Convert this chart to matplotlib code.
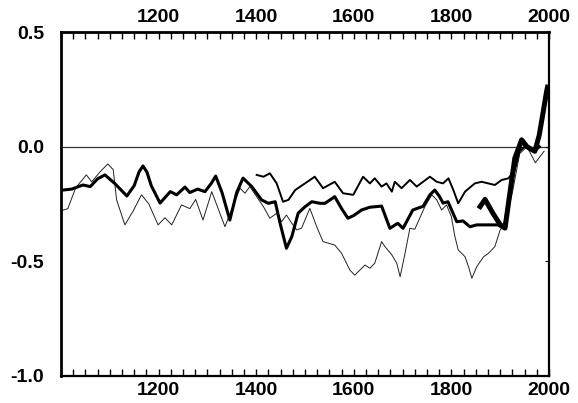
import matplotlib
matplotlib.use('Agg')
import matplotlib.pyplot as plt
from matplotlib.ticker import MultipleLocator

# Thick line (multi-proxy reconstruction, AD 1000-1980)
mann_years = [1000, 1022, 1045, 1060, 1075, 1090, 1110, 1135, 1150, 1160, 1168, 1176,
              1185, 1203, 1224, 1237, 1254, 1264, 1280, 1295, 1308, 1317, 1330, 1346,
              1360, 1373, 1391, 1411, 1425, 1439, 1449, 1462, 1473, 1486, 1500, 1514,
              1531, 1541, 1561, 1575, 1588, 1600, 1616, 1633, 1657, 1674, 1690, 1701,
              1721, 1742, 1756, 1766, 1775, 1783, 1793, 1811, 1824, 1838, 1852, 1875,
              1895, 1908, 1923, 1935, 1945, 1960, 1970, 1980]
mann_vals = [-0.19, -0.185, -0.167, -0.174, -0.14, -0.123, -0.16, -0.215, -0.17, -0.11,
             -0.084, -0.11, -0.17, -0.246, -0.196, -0.21, -0.176, -0.2, -0.185, -0.196,
             -0.16, -0.128, -0.2, -0.32, -0.2, -0.137, -0.174, -0.232, -0.247, -0.24,
             -0.334, -0.443, -0.392, -0.29, -0.262, -0.24, -0.247, -0.247, -0.218, -0.27,
             -0.312, -0.3, -0.276, -0.264, -0.259, -0.356, -0.334, -0.356, -0.276,
             -0.26, -0.21, -0.189, -0.215, -0.246, -0.24, -0.327, -0.324, -0.349,
             -0.341, -0.341, -0.341, -0.356, -0.16, -0.03, 0.02, -0.01, -0.02, 0.0]

# Thin line (AD 1000-1990)
jones_years = [1000, 1014, 1030, 1052, 1063, 1080, 1096, 1107, 1114, 1131, 1148, 1165,
               1180, 1199, 1213, 1227, 1247, 1264, 1276, 1291, 1309, 1336, 1367, 1377,
               1387, 1415, 1428, 1442, 1452, 1462, 1473, 1483, 1493, 1510, 1524, 1537,
               1561, 1575, 1592, 1602, 1623, 1633, 1643, 1657, 1664, 1678, 1688, 1695,
               1705, 1715, 1725, 1746, 1760, 1770, 1780, 1790, 1800, 1807, 1814, 1828,
               1835, 1842, 1852, 1866, 1876, 1889, 1900, 1910, 1925, 1940, 1955, 1972,
               1990]
jones_vals = [-0.28, -0.27, -0.18, -0.123, -0.153, -0.11, -0.075, -0.1, -0.232, -0.341,
              -0.28, -0.21, -0.25, -0.341, -0.31, -0.341, -0.254, -0.27, -0.23, -0.32,
              -0.196, -0.349, -0.181, -0.203, -0.174, -0.262, -0.312, -0.29, -0.327,
              -0.298, -0.334, -0.363, -0.355, -0.269, -0.349, -0.414, -0.429, -0.465,
              -0.538, -0.56, -0.516, -0.53, -0.508, -0.414, -0.436, -0.472, -0.508,
              -0.567, -0.465, -0.356, -0.36, -0.26, -0.21, -0.232, -0.276, -0.254,
              -0.305, -0.39, -0.45, -0.48, -0.523, -0.574, -0.523, -0.48, -0.465, -0.436,
              -0.363, -0.334, -0.2, -0.03, 0.0, -0.07, -0.02]

# Medium line (tree-ring density, AD 1400-1950)
briffa_years = [1401, 1415, 1428, 1442, 1455, 1466, 1480, 1500, 1520, 1537, 1561, 1578,
                1599, 1619, 1633, 1643, 1657, 1667, 1678, 1684, 1698, 1715, 1729, 1742,
                1756, 1770, 1783, 1794, 1804, 1814, 1828, 1848, 1862, 1889, 1903, 1917,
                1930, 1940, 1950]
briffa_vals = [-0.123, -0.131, -0.116, -0.16, -0.24, -0.232, -0.189, -0.16, -0.131,
               -0.181, -0.153, -0.203, -0.21, -0.131, -0.16, -0.138, -0.174, -0.16,
               -0.196, -0.153, -0.181, -0.145, -0.174, -0.153, -0.131, -0.153, -0.16,
               -0.138, -0.189, -0.247, -0.196, -0.16, -0.153, -0.167, -0.145, -0.138,
               -0.1, -0.02, 0.0]

# Heaviest line (instrumental record, 1856-1998)
instr_years = [1856, 1869, 1885, 1900, 1910, 1920, 1930, 1944, 1955, 1971, 1980, 1988,
               1995, 1998]
instr_vals = [-0.27, -0.23, -0.29, -0.34, -0.355, -0.2, -0.05, 0.03, 0.0, -0.02, 0.05,
              0.15, 0.24, 0.27]

x_labels = [1200, 1400, 1600, 1800, 2000]
y_labels = [0.5, 0.0, -0.5, -1.0]

plt.rcParams['font.family'] = 'Liberation Sans'
plt.rcParams['font.weight'] = 'bold'

fig = plt.figure(figsize=(5.78, 4.03), dpi=100)
ax = fig.add_axes([0.1055, 0.067, 0.8443, 0.8535])

ax.axhline(0.0, color='#333333', lw=0.9, zorder=1)
ax.plot(jones_years, jones_vals, color='#222222', lw=0.7, solid_joinstyle='round')
ax.plot(briffa_years, briffa_vals, color='black', lw=1.4, solid_joinstyle='round')
ax.plot(mann_years, mann_vals, color='black', lw=2.2, solid_joinstyle='round')
ax.plot(instr_years, instr_vals, color='black', lw=3.6, solid_capstyle='butt',
        solid_joinstyle='round')

ax.set_xlim(1000, 2000)
ax.set_ylim(-1.0, 0.5)

ax.set_xticks(x_labels)
ax.xaxis.set_minor_locator(MultipleLocator(25))
ax.set_yticks(y_labels)
ax.set_yticklabels(['0.5', '0.0', '-0.5', '-1.0'])

ax.tick_params(axis='x', which='both', direction='in', top=True, bottom=True,
               length=5, width=1.0)
ax.tick_params(axis='x', which='major', pad=4, labelsize=14,
               labeltop=True, labelbottom=True)
ax.tick_params(axis='y', which='major', direction='in', left=False, right=True,
               length=3, width=0.8, pad=12, labelsize=14)

for side in ['left', 'top']:
    ax.spines[side].set_linewidth(2.0)
for side in ['right', 'bottom']:
    ax.spines[side].set_linewidth(1.6)

fig.savefig('out.png', dpi=100)
